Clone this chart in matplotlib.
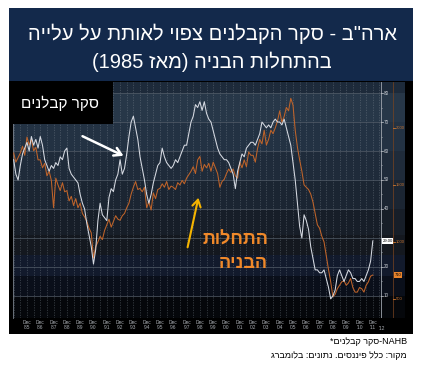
import re
import numpy as np
import matplotlib
matplotlib.use('Agg')
import matplotlib.pyplot as plt
from matplotlib.patches import Rectangle, FancyArrowPatch

plt.rcParams['font.family'] = ['Liberation Sans', 'DejaVu Sans']

# bi-monthly points, Jan 1985 .. Jan 2012
periods = np.arange(1985.0, 2012.01, 1 / 6)

# NAHB builders survey (white line, right scale 10-80)
nahb = [57, 52, 50, 55, 59, 61,  63, 60, 65, 62, 64, 61,  65, 62, 57, 55, 53, 55,
        54, 56, 55, 58, 57, 60,  61, 54, 52, 51, 50, 49,  45, 42, 40, 35, 31, 27,
        21, 26, 36, 42, 38, 37,  36, 44, 47, 46, 50, 52,  57, 52, 54, 59, 65, 70,
        72, 68, 64, 58, 54, 50,  45, 42, 45, 49, 52, 55,  56, 61, 58, 56, 55, 54,
        55, 57, 56, 58, 60, 62,  62, 66, 70, 72, 76, 75,  77, 74, 77, 73, 71, 70,
        67, 64, 61, 59, 58, 57,  57, 56, 54, 52, 47, 53,  56, 59, 58, 61, 62, 63,
        63, 62, 64, 66, 70, 69,  68, 69, 68, 70, 71, 70,  70, 69, 71, 68, 65, 62,
        56, 50, 42, 34, 30, 38,  36, 33, 27, 23, 19, 19,  18, 18, 19, 16, 13, 9,
        10, 12, 17, 19, 17, 15,  17, 19, 18, 16, 16, 15,  15, 16, 15, 17, 19, 22,
        29]

# housing starts, thousands (orange line, scale 500-2000)
starts = [1780, 1700, 1740, 1780, 1840, 1760,  1920, 1850, 1900, 1800, 1830, 1720,
          1720, 1650, 1690, 1580, 1620, 1540,  1300, 1560, 1500, 1450, 1520, 1440,
          1450, 1360, 1400, 1320, 1380, 1300,  1340, 1250, 1220, 1180, 1120, 1080,
          860, 960, 1000, 1050, 1020, 1100,  1150, 1200, 1130, 1180, 1230, 1200,
          1190, 1230, 1250, 1300, 1340, 1420,  1480, 1530, 1460, 1470, 1440, 1480,
          1300, 1350, 1280, 1430, 1380, 1460,  1470, 1510, 1480, 1530, 1460, 1490,
          1480, 1460, 1520, 1500, 1540, 1510,  1560, 1590, 1620, 1660, 1600, 1720,
          1750, 1620, 1680, 1650, 1690, 1620,  1700, 1650, 1600, 1480, 1530, 1550,
          1600, 1640, 1610, 1640, 1580, 1560,  1700, 1650, 1720, 1660, 1790, 1760,
          1760, 1700, 1820, 1900, 1860, 1980,  1850, 1900, 1980, 1950, 2000, 2060,
          2150, 2050, 2100, 2180, 2150, 2260,  2200, 1980, 1830, 1720, 1620, 1500,
          1480, 1460, 1420, 1350, 1250, 1150,  1120, 1050, 1000, 880, 760, 650,
          520, 540, 590, 620, 650, 660,  620, 640, 680, 600, 560, 560,
          600, 590, 560, 620, 650, 700,  710]

nahb_ticks = [10, 20, 30, 40, 50, 60, 70, 80]
starts_ticks = [500, 1000, 1500, 2000]
year_labels = ["'%02d" % (y % 100) for y in range(1985, 2012)]

title1 = 'ארה"ב - סקר הקבלנים צפוי לאותת על עלייה'
title2 = 'בהתחלות הבניה (מאז 1985)'
label_nahb = 'סקר קבלנים'
label_starts = ['התחלות', 'הבניה']
note1 = 'סקר קבלנים'
note2 = 'מקור: כלל פיננסים. נתונים: בלומברג'


def heb(s):
    # logical -> visual order for a right-to-left line
    r = s[::-1]
    r = re.sub(r'[0-9A-Za-z]+', lambda m: m.group(0)[::-1], r)
    return r.translate(str.maketrans('()', ')('))


W, H = 421, 367
fig = plt.figure(figsize=(W / 100, H / 100), dpi=100)
fig.patch.set_facecolor('white')


def fx(x):
    return x / W


def fy(y):
    return 1 - y / H


def box(x0, y0, x1, y1, color, z=0):
    fig.add_artist(Rectangle((fx(x0), fy(y1)), fx(x1) - fx(x0), fy(y0) - fy(y1),
                             transform=fig.transFigure, color=color, zorder=z, lw=0))


# title bar
box(9, 8, 413, 81, '#13294b')
fig.text(fx(212), fy(34), heb(title1), color='white', fontsize=14.5, ha='center', va='center')
fig.text(fx(212), fy(62), heb(title2), color='white', fontsize=14.5, ha='center', va='center')

# bloomberg panel
box(9, 81, 413, 334, 'black')

ax = fig.add_axes([fx(13), fy(318), fx(405) - fx(13), fy(82) - fy(318)])
ax.set_xlim(1984.95, 2014.42)
ax.set_ylim(2.4, 83.8)
AX_R = 2012.62   # right scale line
AX_O = 2013.52   # orange scale line

bands = [(2.4, 10, '#05070b'), (10, 17, '#0a0f1a'), (17, 24, '#121a2c'),
         (24, 31, '#14181f'), (31, 40, '#171e28'), (40, 50, '#1b2532'),
         (50, 60, '#1f2b3a'), (60, 70, '#233243'), (70, 80, '#273748'),
         (80, 83.8, '#1d2a3a')]
for lo, hi, c in bands:
    ax.axhspan(lo, hi, color=c, lw=0, zorder=0)

for t in np.arange(1985.0, 2012.6, 0.5):
    ax.axvline(t, color='#8a949e', lw=0.45, ls=(0, (2, 2)), alpha=0.5, zorder=1)
for v in nahb_ticks:
    ax.plot([1984.95, AX_R], [v, v], color='#535d69', lw=0.5, zorder=1)

ax.axvline(AX_R, color='#a0a6ae', lw=0.6, zorder=2)
ax.axvline(AX_O, color='#7a4420', lw=0.5, zorder=2)
for v in nahb_ticks:
    ax.plot([AX_R, AX_R + 0.12], [v, v], color='#c8ccd2', lw=0.5, zorder=3)
    if abs(v - nahb[-1]) > 3:   # the last-value flag sits over this one
        ax.text(AX_R + 0.2, v, str(v), color='#c8ccd2', fontsize=3.3, va='center', zorder=3)
for v in np.arange(15, 80, 10):
    ax.plot([AX_R, AX_R + 0.1], [v, v], color='#a0a6ae', lw=0.4, zorder=3)

for s in ['top', 'right', 'bottom']:
    ax.spines[s].set_visible(False)
ax.spines['left'].set_color('#7a828c')
ax.spines['left'].set_linewidth(0.6)
ax.set_yticks([])
ax.set_xticks(np.arange(1986.0, 2013.0, 1.0))
ax.set_xticklabels(['Dec\n' + y for y in year_labels])
ax.tick_params(axis='x', length=0, pad=1.5, labelsize=3.5, labelcolor='#a8acb2')
for lbl in ax.get_xticklabels():
    lbl.set_linespacing(1.1)
fig.text(fx(382), fy(329), "'12", fontsize=3.5, color='#a8acb2', ha='center', va='center')

ax2 = ax.twinx()
ax2.set_ylim(333, 2403)
ax2.axis('off')
ax2.plot(periods, starts, color='#c0642a', lw=0.75, zorder=3)
ax2.plot(periods, nahb, color='#d6dae2', lw=0.75, zorder=4, transform=ax.transData)
for s in starts_ticks:
    ax2.plot([AX_O, AX_O + 0.15], [s, s], color='#d07a30', lw=0.6)
    ax2.text(AX_O + 0.2, s, str(s), color='#c87430', fontsize=3.0, va='center')

# last value flags
ax.text(AX_R + 0.1, nahb[-1], '%.2f' % nahb[-1], fontsize=3.0, color='black', va='center',
        bbox=dict(boxstyle='square,pad=0.15', fc='white', ec='none'), zorder=6)
ax2.text(AX_O + 0.1, starts[-1], str(starts[-1]), fontsize=3.0, color='black', va='center',
         bbox=dict(boxstyle='square,pad=0.15', fc='#e8842c', ec='none'), zorder=6)

# annotations
box(9, 81, 113, 124, 'black', z=5)
fig.text(fx(60), fy(103), heb(label_nahb), color='white', fontsize=11, ha='center',
         va='center', zorder=6)
fig.add_artist(FancyArrowPatch((fx(80), fy(135)), (fx(126), fy(157)), transform=fig.transFigure,
                               arrowstyle='->,head_length=5,head_width=3', color='white',
                               lw=1.8, zorder=6))
fig.add_artist(FancyArrowPatch((fx(187), fy(250)), (fx(199), fy(195)), transform=fig.transFigure,
                               arrowstyle='->,head_length=5,head_width=3', color='#f5b400',
                               lw=1.5, zorder=6))
fig.text(fx(268), fy(240), heb(label_starts[0]), color='#f0892a', fontsize=13, weight='bold',
         ha='right', va='center', zorder=6)
fig.text(fx(268), fy(264), heb(label_starts[1]), color='#f0892a', fontsize=13, weight='bold',
         ha='right', va='center', zorder=6)

# footnotes
fig.text(fx(407), fy(342), '*' + heb(note1) + '-NAHB', fontsize=6.5, ha='right', va='center')
fig.text(fx(407), fy(355), heb(note2), fontsize=6.5, ha='right', va='center')

fig.savefig('out.png', dpi=100, facecolor='white')
